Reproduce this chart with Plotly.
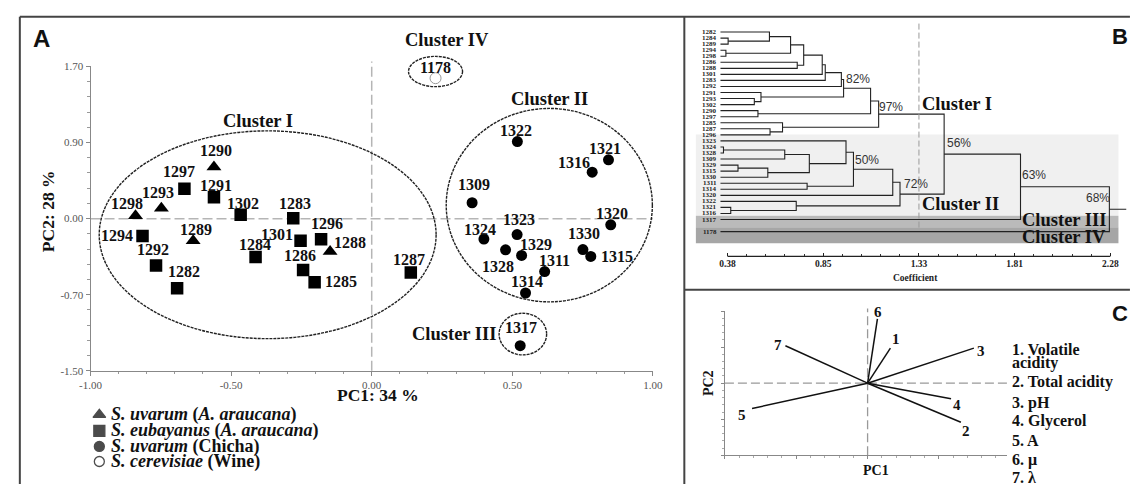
import plotly.graph_objects as go

W, H = 1137, 488
SERIF = "Liberation Serif"
SANS = "Liberation Sans"

# ---------------- Panel A: PCA scores ----------------
series_html = [
    "<b><i>S. uvarum</i> (<i>A. araucana</i>)</b>",
    "<b><i>S. eubayanus</i> (<i>A. araucana</i>)</b>",
    "<b><i>S. uvarum</i> (Chicha)</b>",
    "<b><i>S. cerevisiae</i> (Wine)</b>",
]
series_names = ["S. uvarum (A. araucana)", "S. eubayanus (A. araucana)",
                "S. uvarum (Chicha)", "S. cerevisiae (Wine)"]

tri_ids = ["1290", "1293", "1298", "1289", "1288"]
tri_pc1 = [-0.561, -0.748, -0.840, -0.635, -0.148]
tri_pc2 = [0.544, 0.110, 0.031, -0.233, -0.346]

sq_ids = ["1297", "1291", "1302", "1283", "1294", "1301", "1296", "1284",
          "1292", "1286", "1285", "1282", "1287"]
sq_pc1 = [-0.666, -0.561, -0.466, -0.279, -0.815, -0.253, -0.180, -0.413,
          -0.767, -0.244, -0.203, -0.692, 0.139]
sq_pc2 = [0.315, 0.226, 0.041, 0.003, -0.182, -0.233, -0.216, -0.403,
          -0.492, -0.541, -0.670, -0.732, -0.567]

ci_ids = ["1322", "1321", "1316", "1309", "1320", "1323", "1324", "1328",
          "1329", "1330", "1315", "1311", "1314", "1317"]
ci_pc1 = [0.518, 0.842, 0.784, 0.357, 0.850, 0.517, 0.399, 0.476,
          0.533, 0.751, 0.779, 0.615, 0.547, 0.528]
ci_pc2 = [0.810, 0.618, 0.489, 0.167, -0.065, -0.167, -0.215, -0.328,
          -0.387, -0.325, -0.397, -0.557, -0.782, -1.336]

wine_ids = ["1178"]
wine_pc1 = [0.227]
wine_pc2 = [1.477]

x_tickvals = [-1.0, -0.5, 0.0, 0.5, 1.0]
x_ticktext = ["-1.00", "-0.50", "0.00", "0.50", "1.00"]
y_tickvals = [-1.6, -0.8, 0.0, 0.8, 1.6]
y_ticktext = ["-1.50", "-0.70", "0.00", "0.90", "1.70"]

# cluster ellipses (PC1 min, PC1 max, PC2 min, PC2 max)
cluster_names = ["Cluster I", "Cluster II", "Cluster III", "Cluster IV"]
cluster_box = [(-0.969, 0.229, -1.262, 0.923),
               (0.265, 0.998, -0.875, 1.159),
               (0.453, 0.622, -1.433, -0.995),
               (0.131, 0.323, 1.388, 1.706)]
cluster_label_xy = [(-0.403, 1.026), (0.634, 1.262), (0.291, -1.217), (0.269, 1.877)]

# ---------------- Panel B: dendrogram ----------------
leaf_ids = ["1282", "1284", "1289", "1294", "1298", "1286", "1288", "1301", "1283",
            "1292", "1291", "1293", "1302", "1290", "1297", "1285", "1287", "1296",
            "1323", "1324", "1328", "1309", "1329", "1315", "1330", "1311", "1314",
            "1320", "1322", "1321", "1316", "1317", "1178"]
merges = [
    ("1284", "1289", 0.383), ("1294", "1298", 0.372), ("1282", "m0", 0.588),
    ("m2", "m1", 0.693), ("1286", "1288", 0.726), ("m3", "m4", 0.758),
    ("m5", "1301", 0.850), ("m6", "1283", 0.865), ("m7", "1292", 0.945),
    ("1293", "1302", 0.513), ("1291", "m9", 0.546), ("m8", "m10", 0.956),
    ("1290", "1297", 0.531), ("m11", "m12", 1.090), ("1287", "1296", 0.591),
    ("1285", "m14", 0.653), ("m13", "m15", 1.130),
    ("1324", "1328", 0.360), ("m17", "1309", 0.664), ("1329", "1315", 0.432),
    ("m19", "1330", 0.580), ("m18", "m20", 0.786), ("1323", "m21", 0.968),
    ("1311", "1314", 0.775), ("m22", "m23", 1.005), ("m24", "1320", 1.200),
    ("1321", "1316", 0.396), ("1322", "m26", 0.721), ("m25", "m27", 1.236),
    ("m16", "m28", 1.455), ("m29", "1317", 1.834), ("m30", "1178", 2.275),
]
pct_labels = ["82%", "97%", "56%", "50%", "72%", "63%", "68%"]
pct_xy = [(1.028, 7.79), (1.193, 12.47), (1.530, 18.27), (1.072, 21.18),
          (1.313, 25.16), (1.900, 23.6), (2.221, 27.47)]
coef_tickvals = [0.38, 0.855, 1.33, 1.805, 2.28]
coef_ticktext = ["0.38", "0.85", "1.33", "1.81", "2.28"]
cut_coef = 1.33

# ---------------- Panel C: loadings ----------------
var_names = ["Volatile acidity", "Total acidity", "pH", "Glycerol", "A", "μ", "λ"]
load_pc1 = [0.160, 0.654, 0.745, 0.585, -0.810, 0.069, -0.576]
load_pc2 = [0.486, -0.541, 0.486, -0.216, -0.351, 0.892, 0.519]

# ======================= layout helpers =======================
def X(px):
    return px / W

def Y(py):
    return 1 - py / H

# panel A pixel mapping
def a_px(x):
    return 81 + (x + 1) * 286.5

def a_py(y):
    return 218 - y * 97.5

# panel B pixel mapping
def b_px(c):
    return 730 + (c - 0.38) * 205.3

# panel C pixel mapping
def c_px(x):
    return 872.7 + x * 145.35

def c_py(y):
    return 386.7 - y * 74

fig = go.Figure()
annotations = []
shapes = []

def ann(text, x, y, size, family=SERIF, color="#111", xanchor="center",
        yanchor="middle", xref="paper", yref="paper", xshift=0, yshift=0, angle=0):
    annotations.append(dict(text=text, x=x, y=y, xref=xref, yref=yref, showarrow=False,
                            font=dict(family=family, size=size, color=color),
                            xanchor=xanchor, yanchor=yanchor, xshift=xshift,
                            yshift=yshift, textangle=angle))

# ---------------- Panel A traces ----------------
marker_styles = [
    dict(symbol="triangle-up", size=13, color="black"),
    dict(symbol="square", size=12.5, color="black"),
    dict(symbol="circle", size=11, color="black"),
    dict(symbol="circle-open", size=11, color="#999", line=dict(width=1, color="#999")),
]
groups = [(tri_ids, tri_pc1, tri_pc2), (sq_ids, sq_pc1, sq_pc2),
          (ci_ids, ci_pc1, ci_pc2), (wine_ids, wine_pc1, wine_pc2)]
for (ids, xs, ys), name, ms in zip(groups, series_names, marker_styles):
    fig.add_trace(go.Scatter(x=xs, y=ys, mode="markers", name=name, marker=ms,
                             text=ids, xaxis="x", yaxis="y", showlegend=False,
                             hovertemplate="%{text}<extra></extra>"))

label_off = {
    "1290": (2, -16), "1297": (-5, -17), "1291": (2, -12), "1293": (-3, -16),
    "1298": (-8, -12), "1302": (2, -11), "1283": (2, -15), "1294": (-26, 0),
    "1289": (3, -11), "1301": (-24, -6), "1296": (6, -16), "1288": (20, -9),
    "1284": (-1, -12), "1292": (-3, -16), "1286": (-3, -15), "1285": (26, -1),
    "1282": (7, -17), "1287": (-2, -13),
    "1322": (-1, -11), "1321": (-3, -11), "1316": (-18, -10), "1309": (2, -18),
    "1320": (1, -11), "1323": (2, -15), "1324": (-4, -10), "1328": (-8, 17),
    "1329": (14, -11), "1330": (1, -16), "1315": (26, 0), "1311": (10, -11),
    "1314": (1, -12), "1317": (1, -18), "1178": (0, -11),
}
for ids, xs, ys in groups:
    for sid, xv, yv in zip(ids, xs, ys):
        dx, dy = label_off[sid]
        ann(f"<b>{sid}</b>", xv, yv, 16, xref="x", yref="y", xshift=dx, yshift=-dy)

for (x0, x1, y0, y1), nm, (lx, ly) in zip(cluster_box, cluster_names, cluster_label_xy):
    shapes.append(dict(type="circle", xref="paper", yref="paper",
                       x0=X(a_px(x0)), x1=X(a_px(x1)), y0=Y(a_py(y0)), y1=Y(a_py(y1)),
                       line=dict(color="#222", width=1.4, dash="3px,1px")))
    ann(f"<b>{nm}</b>", X(a_px(lx)), Y(a_py(ly)), 18.5)

# dashed reference lines in A
shapes.append(dict(type="line", xref="paper", yref="paper",
                   x0=X(a_px(-1)), x1=X(a_px(1)), y0=Y(a_py(0)), y1=Y(a_py(0)),
                   line=dict(color="#b5b5b5", width=1.5, dash="10px,4px"), layer="below"))
shapes.append(dict(type="line", xref="paper", yref="paper",
                   x0=X(a_px(0)), x1=X(a_px(0)), y0=Y(a_py(-1.6)), y1=Y(57),
                   line=dict(color="#b5b5b5", width=1.5, dash="10px,4px"), layer="below"))

# axis titles and legend for A
ann("<b>PC1: 34 %</b>", X(374), Y(399), 17.5)
ann("<b>PC2: 28 %</b>", X(38), Y(210), 17.5, angle=-90)
legend_y = [419, 435.5, 451.5, 467]
fig.add_trace(go.Scatter(
    x=[90, 90, 90, 90], y=legend_y, mode="markers", xaxis="x4", yaxis="y4",
    marker=dict(symbol=[m["symbol"] for m in marker_styles], size=[11, 11, 10, 10],
                color="black", line=dict(width=1.3, color="black")),
    showlegend=False, hoverinfo="skip", cliponaxis=False))
for txt, ly in zip(series_html, legend_y):
    ann(txt, X(100), Y(ly), 18, xanchor="left")

# ---------------- Panel B dendrogram ----------------
leaf_pos = list(range(len(leaf_ids) - 1)) + [len(leaf_ids)]
leaf_start = 0.345
node = {lid: (leaf_start, p) for lid, p in zip(leaf_ids, leaf_pos)}
dx_, dy_ = [], []
for k, (a, b, h) in enumerate(merges):
    xa, ya = node[a]
    xb, yb = node[b]
    dx_ += [xa, h, h, xb, None]
    dy_ += [ya, ya, yb, yb, None]
    node[f"m{k}"] = (h, (ya + yb) / 2)
root_x, root_y = node[f"m{len(merges) - 1}"]
dx_ += [root_x, 2.36, None]
dy_ += [root_y, root_y, None]
fig.add_trace(go.Scatter(x=dx_, y=dy_, mode="lines", xaxis="x2", yaxis="y2",
                         line=dict(color="#222", width=1.1), showlegend=False,
                         hoverinfo="skip"))
for lid, p in zip(leaf_ids, leaf_pos):
    ann(f"<b>{lid}</b>", leaf_start, p, 7, xanchor="right", xref="x2", yref="y2",
        xshift=-1, color="#222")

# bands
band_rows = [(16.94, 30.37, "#f0f0f0"), (30.37, 32.26, "#bababa"), (32.26, 34.94, "#a6a6a6")]
for y0, y1, col in band_rows:
    shapes.append(dict(type="rect", xref="x2", yref="y2", x0=0.223, x1=2.32, y0=y0, y1=y1,
                       fillcolor=col, line=dict(width=0), layer="below"))
shapes.append(dict(type="line", xref="x2", yref="y2", x0=cut_coef, x1=cut_coef,
                   y0=-1.4, y1=32.5, line=dict(color="#999", width=1, dash="6px,3px")))
shapes.append(dict(type="line", xref="x2", yref="paper", x0=0.38, x1=2.28,
                   y0=Y(256.7), y1=Y(256.7), line=dict(color="#222", width=1.2)))
for t, (px_, py_) in zip(pct_labels, pct_xy):
    ann(t, px_, py_, 12, family=SANS, color="#333", xref="x2", yref="y2")
ann("<b>Cluster I</b>", 1.333, 11.82, 18.5, xanchor="left", xref="x2", yref="y2")
ann("<b>Cluster II</b>", 1.333, 28.44, 18.5, xanchor="left", xref="x2", yref="y2")
ann("<b>Cluster III</b>", 2.27, 31.0, 18.5, xanchor="right", xref="x2", yref="y2")
ann("<b>Cluster IV</b>", 2.27, 33.97, 18.5, xanchor="right", xref="x2", yref="y2")
ann("<b>Coefficient</b>", X(922), Y(279), 9.5, color="#222")

# ---------------- Panel C loadings ----------------
vx, vy = [], []
for a, b in zip(load_pc1, load_pc2):
    vx += [0, a, None]
    vy += [0, b, None]
fig.add_trace(go.Scatter(x=vx, y=vy, mode="lines", xaxis="x3", yaxis="y3",
                         line=dict(color="#111", width=1.5), showlegend=False,
                         hoverinfo="skip"))
vec_off = [(6, -9), (5, 9), (7, 3), (6, 6), (-10, 6), (1, -7), (-7, -1)]
for i, (a, b) in enumerate(zip(load_pc1, load_pc2)):
    dx, dy = vec_off[i]
    ann(f"<b>{i + 1}</b>", a, b, 15, xref="x3", yref="y3", xshift=dx, yshift=-dy)
shapes.append(dict(type="line", xref="x3", yref="y3", x0=-1, x1=0.98, y0=0, y1=0,
                   line=dict(color="#999", width=1.3, dash="9px,4px"), layer="below"))
shapes.append(dict(type="line", xref="x3", yref="paper", x0=0, x1=0, y0=Y(c_py(-1)),
                   y1=Y(310), line=dict(color="#999", width=1.3, dash="9px,4px"), layer="below"))
ann("<b>PC1</b>", X(881.7), Y(476.7), 14)
ann("<b>PC2</b>", X(710), Y(386.7), 14, angle=-90)
list_lines = ["1. Volatile", "acidity"] + [f"{i + 1}. {n}" for i, n in enumerate(var_names) if i > 0]
list_y = [352.5, 365.5, 385.7, 407, 425, 445, 465, 483.3]
for t, ly in zip(list_lines, list_y):
    ann(f"<b>{t}</b>", X(1018.3), Y(ly), 16, xanchor="left")

# ---------------- Panel labels and borders ----------------
ann("<b>A</b>", X(31.3), Y(33.7), 24, family=SANS)
ann("<b>B</b>", X(1129.5), Y(31), 22, family=SANS)
ann("<b>C</b>", X(1129.5), Y(315), 22, family=SANS)
border = dict(color="#444", width=2)
for (x0, y0, x1, y1) in [(9, 11, 1140, 11), (9, 11, 9, 490), (686, 11, 686, 490),
                         (686, 291, 1140, 291)]:
    shapes.append(dict(type="line", xref="paper", yref="paper", x0=X(x0), x1=X(x1),
                       y0=Y(y0), y1=Y(y1), line=border))

tick_font_a = dict(family=SERIF, size=11, color="#555")
fig.update_layout(
    width=W, height=H, autosize=False, margin=dict(l=0, r=0, t=0, b=0),
    paper_bgcolor="white", plot_bgcolor="rgba(0,0,0,0)", showlegend=False,
    xaxis=dict(domain=[X(a_px(-1)), X(a_px(1))], range=[-1, 1], anchor="y",
               tickmode="array", tickvals=x_tickvals, ticktext=x_ticktext,
               showline=True, linecolor="#888", linewidth=1, ticks="outside",
               ticklen=4, tickcolor="#888", showgrid=False, zeroline=False,
               tickfont=tick_font_a,
               minor=dict(tickmode="linear", tick0=-1, dtick=0.1, ticks="outside",
                          ticklen=2.5, tickcolor="#999", showgrid=False)),
    yaxis=dict(domain=[Y(a_py(-1.6)), Y(a_py(1.6))], range=[-1.6, 1.6], anchor="x",
               tickmode="array", tickvals=y_tickvals, ticktext=y_ticktext,
               showline=True, linecolor="#888", linewidth=1, ticks="outside",
               ticklen=4, tickcolor="#888", showgrid=False, zeroline=False,
               tickfont=tick_font_a,
               minor=dict(tickmode="linear", tick0=0, dtick=0.16, ticks="outside",
                          ticklen=2.5, tickcolor="#999", showgrid=False)),
    xaxis2=dict(domain=[X(b_px(0.2)), X(b_px(2.36))], range=[0.2, 2.36], anchor="y2",
                tickmode="array", tickvals=coef_tickvals, ticktext=coef_ticktext,
                showline=False, ticks="inside", ticklen=3, tickcolor="#222",
                showgrid=False, zeroline=False,
                tickfont=dict(family=SERIF, size=9.5, color="#222", weight="bold"),
                minor=dict(tickmode="array",
                           tickvals=[0.38 + k * 0.095 for k in range(21)],
                           ticks="inside", ticklen=2, tickcolor="#333", showgrid=False)),
    yaxis2=dict(domain=[Y(256.7), Y(15)], range=[(256.7 - 26.7) / 6.2, (15 - 26.7) / 6.2],
                anchor="x2", visible=False),
    xaxis3=dict(domain=[X(c_px(-1)), X(c_px(0.98))], range=[-1, 0.98], anchor="y3",
                showline=True, linecolor="#888", linewidth=1, ticks="outside",
                ticklen=3, tickcolor="#888", showticklabels=False, showgrid=False,
                zeroline=False, tickmode="linear", tick0=0, dtick=0.5,
                minor=dict(tickmode="linear", tick0=0, dtick=0.1, ticks="outside",
                           ticklen=2, tickcolor="#aaa", showgrid=False)),
    yaxis3=dict(domain=[Y(c_py(-1)), Y(c_py(1))], range=[-1, 1], anchor="x3",
                showline=True, linecolor="#888", linewidth=1, ticks="outside",
                ticklen=3, tickcolor="#888", showticklabels=False, showgrid=False,
                zeroline=False, tickmode="linear", tick0=0, dtick=0.5,
                minor=dict(tickmode="linear", tick0=0, dtick=0.1, ticks="outside",
                           ticklen=2, tickcolor="#aaa", showgrid=False)),
    xaxis4=dict(domain=[0, 1], range=[0, W], anchor="y4", visible=False, fixedrange=True),
    yaxis4=dict(domain=[0, 1], range=[H, 0], anchor="x4", visible=False, fixedrange=True),
    annotations=annotations, shapes=shapes,
)

fig.write_html("out.html", config={"displayModeBar": False},
               post_script="document.body.style.margin='0px';document.body.style.overflow='hidden';")
